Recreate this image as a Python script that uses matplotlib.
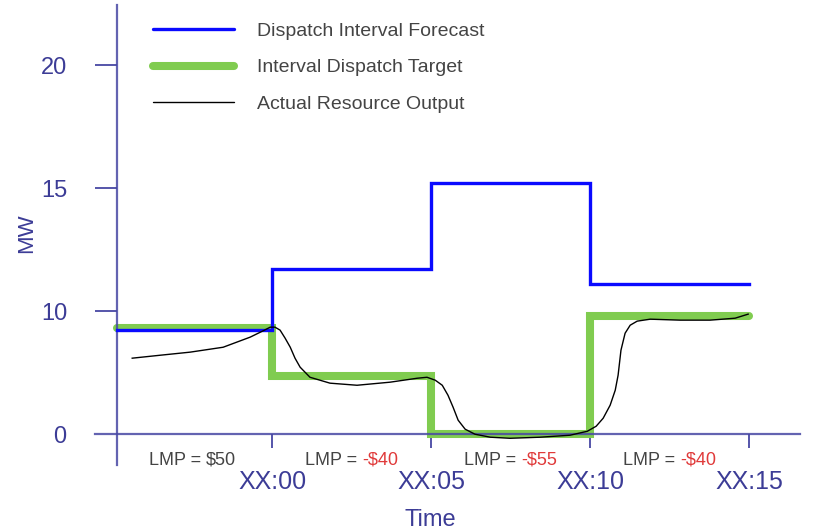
import numpy as np
import matplotlib
matplotlib.use("Agg")
import matplotlib.pyplot as plt
from matplotlib import transforms

plt.rcParams['font.family'] = ['Liberation Sans', 'DejaVu Sans']

# ---------------- data ----------------
interval_edges = [-4.87, 0, 5, 10, 15]          # minutes relative to XX:00
forecast_mw = [8.5, 11.7, 15.2, 11.1]           # Dispatch Interval Forecast
target_mw = [8.6, 4.7, 0.0, 9.6]                # Interval Dispatch Target

actual_t = [-4.40, -3.52, -2.58, -1.54, -0.69, -0.31, -0.06, 0.09, 0.25, 0.41,
            0.57, 0.72, 0.88, 1.19, 1.82, 2.67, 3.71, 4.56, 4.87, 5.13,
            5.35, 5.53, 5.69, 5.85, 6.07, 6.38, 6.86, 7.48, 8.43, 9.37,
            9.91, 10.19, 10.41, 10.63, 10.79, 10.88, 10.97, 11.10, 11.26, 11.48,
            11.89, 12.83, 13.77, 14.56, 14.97]
actual_mw = [6.18, 6.42, 6.67, 7.07, 7.89, 8.37, 8.70, 8.70, 8.46, 7.80,
             7.07, 6.18, 5.45, 4.63, 4.15, 3.98, 4.23, 4.55, 4.63, 4.39,
             3.98, 3.17, 2.20, 1.14, 0.41, 0.0, -0.24, -0.33, -0.24, -0.08,
             0.24, 0.65, 1.30, 2.36, 3.58, 4.80, 6.83, 8.21, 8.86, 9.19,
             9.35, 9.27, 9.27, 9.43, 9.76]

x_ticks = [0, 5, 10, 15]
x_tick_labels = ['XX:00', 'XX:05', 'XX:10', 'XX:15']
y_ticks = [10, 15, 20]
y_tick_labels = ['10', '15', '20']

lmp_centers = [-2.5, 2.5, 7.5, 12.5]
lmp_values = ['$50', '-$40', '-$55', '-$40']

series_labels = ['Dispatch Interval Forecast', 'Interval Dispatch Target',
                 'Actual Resource Output']

# ---------------- style ----------------
AXIS_C = '#4848a4'
TICKLAB_C = '#3c3c96'
TEXT_GRAY = '#444444'
RED = '#e03a3a'
BLUE = '#0a0aff'
GREEN = '#80cc50'

fig = plt.figure(figsize=(8.21, 5.32), dpi=100)
W, H = 821, 532
ax = fig.add_axes([95 / W, (H - 465) / H, (800 - 95) / W, (465 - 5) / H])


def fwd(y):
    y = np.asarray(y, dtype=float)
    return np.where(y < 10, y / 10.0, 1 + (y - 10) / 5.0)


def inv(p):
    p = np.asarray(p, dtype=float)
    return np.where(p < 1, p * 10.0, 10 + (p - 1) * 5.0)


ax.set_yscale('function', functions=(fwd, inv))
ax.set_xlim(-5.57, 16.6)
ax.set_ylim(-2.5, 22.44)

# series
ax.step(interval_edges, target_mw + [target_mw[-1]], where='post', color=GREEN,
        lw=5.8, solid_capstyle='round', solid_joinstyle='miter', zorder=2,
        label=series_labels[1])
ax.step(interval_edges, forecast_mw + [forecast_mw[-1]], where='post', color=BLUE,
        lw=2.4, solid_joinstyle='miter', zorder=3, label=series_labels[0])
ax.plot(actual_t, actual_mw, color='black', lw=1.0, zorder=4,
        label=series_labels[2])

# spines
for s in ['top', 'right']:
    ax.spines[s].set_visible(False)
ax.spines['left'].set_position(('data', interval_edges[0]))
ax.spines['bottom'].set_position(('data', 0))
for s in ['left', 'bottom']:
    ax.spines[s].set_color(AXIS_C)
    ax.spines[s].set_linewidth(1.6)
    ax.spines[s].set_alpha(0.85)

ax.set_xticks(x_ticks, x_tick_labels)
ax.set_yticks(y_ticks, y_tick_labels)
ax.set_yticks([0], ['0'], minor=True)
ax.tick_params(axis='x', direction='out', length=10, width=1.3, color=AXIS_C,
               labelcolor=TICKLAB_C, labelsize=18, pad=16)
ax.tick_params(axis='y', which='major', direction='out', length=16, width=1.3,
               color=AXIS_C, labelcolor=TICKLAB_C, labelsize=17, pad=20)
ax.tick_params(axis='y', which='minor', length=0, labelcolor=TICKLAB_C,
               labelsize=17, pad=36.5)
ax.tick_params(axis='x', which='minor', length=0)

# LMP labels
LMP_FS = 13
LMP_Y = 0.0
trans = transforms.blended_transform_factory(ax.transData, ax.transAxes)
fig.canvas.draw()
r = fig.canvas.get_renderer()
for xc, val in zip(lmp_centers, lmp_values):
    red = val.startswith('-')
    full = 'LMP = ' + val
    tmp = ax.text(xc, LMP_Y, full, transform=trans, ha='center', va='baseline',
                  fontsize=LMP_FS)
    bb = tmp.get_window_extent(r)
    tmp.remove()
    x0 = ax.transData.inverted().transform((bb.x0, 0))[0]
    t1 = ax.text(x0, LMP_Y, 'LMP = ', transform=trans, ha='left', va='baseline',
                 fontsize=LMP_FS, color=TEXT_GRAY)
    b1 = t1.get_window_extent(r)
    x1 = ax.transData.inverted().transform((b1.x1, 0))[0]
    ax.text(x1, LMP_Y, val, transform=trans, ha='left', va='baseline',
            fontsize=LMP_FS, color=RED if red else TEXT_GRAY)

# legend
leg = ax.legend(handles=[ax.lines[1], ax.lines[0], ax.lines[2]],
                labels=series_labels, loc='upper left',
                bbox_to_anchor=(0.082, 0.962), frameon=False, fontsize=14,
                handlelength=4.2, handletextpad=1.15, labelspacing=0.96,
                borderpad=0, borderaxespad=0)
for txt in leg.get_texts():
    txt.set_color(TEXT_GRAY)
for h in leg.legend_handles:
    h.set_solid_capstyle('round')

fig.text(430 / W, (H - 520) / H, 'Time', ha='center', va='center',
         fontsize=17, color=TICKLAB_C)
fig.text(27 / W, (H - 233) / H, 'MW', ha='center', va='center', rotation=90,
         fontsize=16, color=TICKLAB_C)

fig.savefig('out.png', dpi=100)
